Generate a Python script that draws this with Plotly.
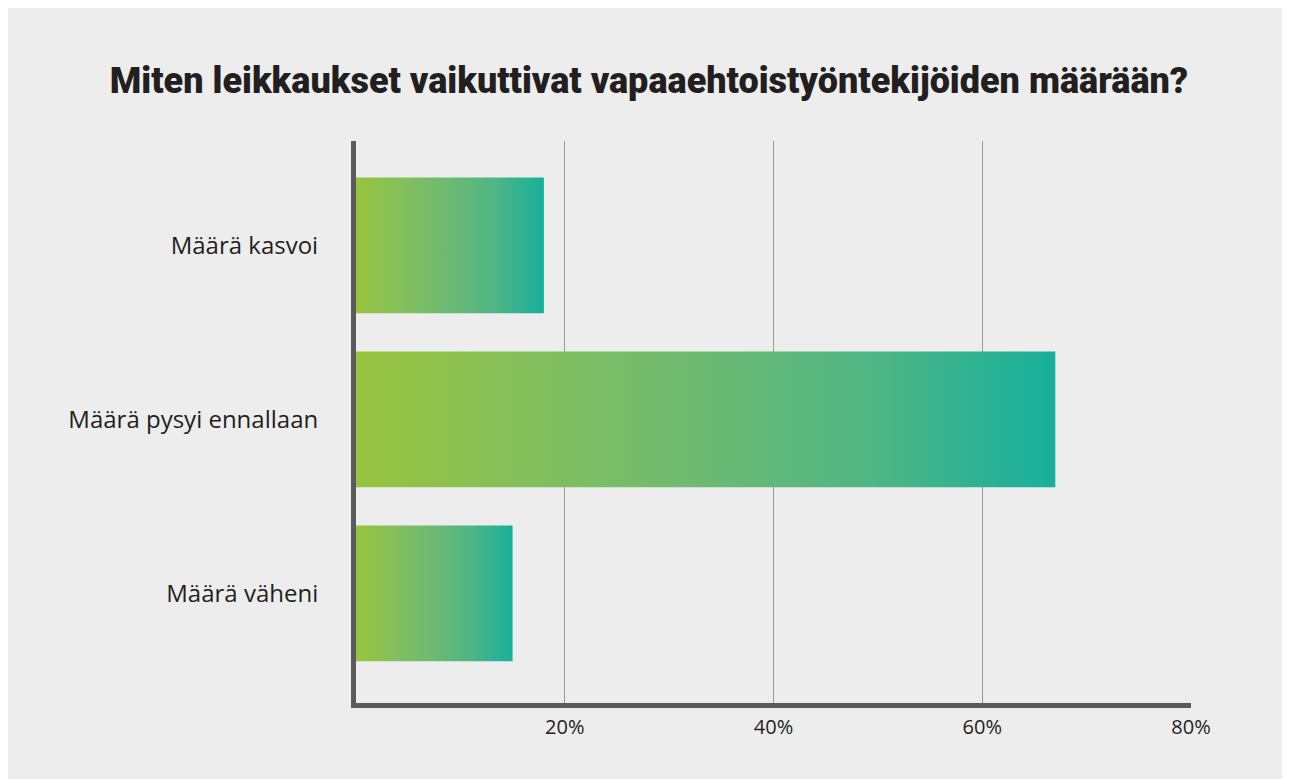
import plotly.graph_objects as go

categories = ["Määrä kasvoi", "Määrä pysyi ennallaan", "Määrä väheni"]
values = [18, 67, 15]
tick_vals = [20, 40, 60, 80]
tick_text = ["20%", "40%", "60%", "80%"]
title = "Miten leikkaukset vaikuttivat vapaaehtoistyöntekijöiden määrään?"

BG = "#ededed"
TXT = "#231f20"
half = 0.39
gradient = [[0, "#98c43e"], [0.25, "#83bf5c"], [0.5, "#6cba72"],
            [0.75, "#4db585"], [1, "#16b09b"]]

fig = go.Figure()
for i, v in enumerate(values):
    fig.add_trace(go.Scatter(
        x=[0, v, v, 0, 0],
        y=[i - half, i - half, i + half, i + half, i - half],
        mode="lines",
        line=dict(width=0),
        fill="toself",
        fillgradient=dict(type="horizontal", colorscale=gradient),
        hoverinfo="skip",
        showlegend=False,
    ))

fig.update_layout(
    width=1282,
    height=771,
    autosize=False,
    paper_bgcolor=BG,
    plot_bgcolor=BG,
    margin=dict(l=348, r=99, t=133, b=76),
    title=dict(text=title, x=0.5, xanchor="center",
               y=0.906, yanchor="middle",
               font=dict(family="Roboto", size=36, weight=900, color=TXT)),
    font=dict(family="Open Sans", color=TXT),
    xaxis=dict(range=[0, 80], tickvals=tick_vals, ticktext=tick_text,
               showgrid=True, gridcolor="#9a9a9a", gridwidth=1,
               showline=True, linecolor="#5b5b5b", linewidth=5,
               zeroline=False, ticks="", ticklabelstandoff=2,
               tickfont=dict(size=20, color=TXT), fixedrange=True),
    yaxis=dict(range=[2.63, -0.6], tickvals=[0, 1, 2], ticktext=categories,
               showgrid=False, showline=True, linecolor="#5b5b5b", linewidth=5,
               zeroline=False, ticks="", ticklabelstandoff=28,
               tickfont=dict(size=24, color=TXT), fixedrange=True),
)

fig.write_html("out.html")
